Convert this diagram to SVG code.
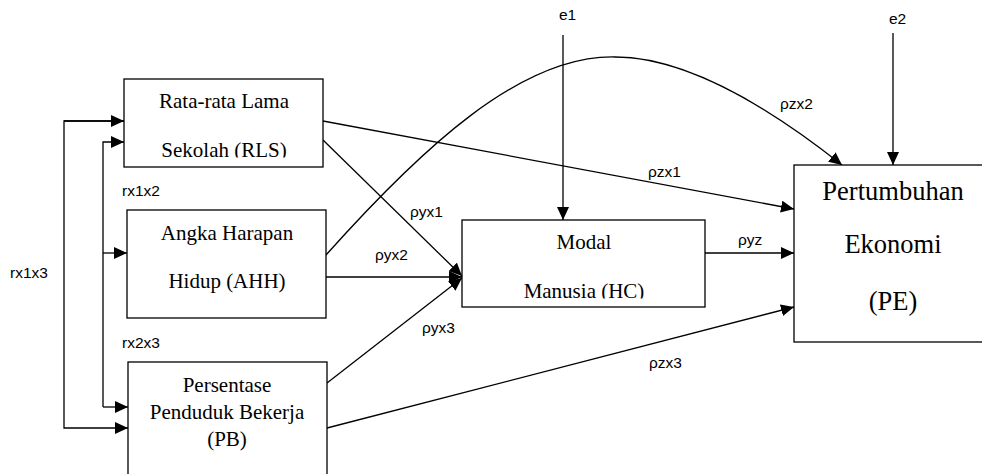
<svg xmlns="http://www.w3.org/2000/svg" width="982" height="474" viewBox="0 0 982 474">
<style>
.box{fill:#fff;stroke:#000;stroke-width:1.3}
.t{font-family:"Liberation Serif",serif;font-size:21px;fill:#000;text-anchor:middle}
.tb{font-family:"Liberation Serif",serif;font-size:26.5px;fill:#000;text-anchor:middle}
.l{font-family:"Liberation Sans",Arial,sans-serif;font-size:15.5px;fill:#000}
.c{fill:none;stroke:#000;stroke-width:1.3}
</style>
<defs>
<marker id="ah" markerUnits="userSpaceOnUse" markerWidth="14" markerHeight="12" refX="13" refY="6" orient="auto">
<path d="M0,0 L13,6 L0,12 Z" fill="#000"/>
</marker>
<clipPath id="cRLS"><rect x="124" y="79" width="200" height="78.5"/></clipPath>
<clipPath id="cHC"><rect x="462" y="220" width="244" height="78.5"/></clipPath>
</defs>
<g id="connectors">
<polyline class="c" points="124,121 64,121 64,428 128,428" marker-end="url(#ah)"/>
<line class="c" x1="64" y1="121" x2="124" y2="121" marker-end="url(#ah)"/>
<polyline class="c" points="103,407 103,142 124,142" marker-end="url(#ah)"/>
<line class="c" x1="103" y1="253" x2="127" y2="253" marker-end="url(#ah)"/>
<line class="c" x1="103" y1="407" x2="128" y2="407" marker-end="url(#ah)"/>
<line class="c" x1="323" y1="140" x2="462" y2="276" marker-end="url(#ah)"/>
<line class="c" x1="326" y1="277" x2="462" y2="277" marker-end="url(#ah)"/>
<line class="c" x1="327" y1="383" x2="462" y2="278" marker-end="url(#ah)"/>
<line class="c" x1="323" y1="121" x2="794" y2="209" marker-end="url(#ah)"/>
<line class="c" x1="705" y1="253" x2="794" y2="253" marker-end="url(#ah)"/>
<line class="c" x1="327" y1="428" x2="794" y2="307" marker-end="url(#ah)"/>
<path class="c" d="M326,255 C420,150 520,55 615,57 C680,57 760,100 842,165" marker-end="url(#ah)"/>
<line class="c" x1="563" y1="35" x2="563" y2="220" marker-end="url(#ah)"/>
<line class="c" x1="893" y1="33" x2="893" y2="165" marker-end="url(#ah)"/>
<text class="l" x="122" y="196">rx1x2</text>
<text class="l" x="122" y="348">rx2x3</text>
<text class="l" x="10" y="278">rx1x3</text>
<text class="l" x="410" y="217">ρyx1</text>
<text class="l" x="375" y="260">ρyx2</text>
<text class="l" x="422" y="333">ρyx3</text>
<text class="l" x="648" y="177">ρzx1</text>
<text class="l" x="780" y="109">ρzx2</text>
<text class="l" x="649" y="368">ρzx3</text>
<text class="l" x="738" y="245">ρyz</text>
<text class="l" x="559" y="20">e1</text>
<text class="l" x="889" y="24">e2</text>
</g>
<g id="RLS">
<rect class="box" x="124" y="79" width="199" height="88"/>
<text class="t" x="224" y="108">Rata-rata Lama</text>
<text class="t" x="224" y="157" clip-path="url(#cRLS)">Sekolah (RLS)</text>
</g>
<g id="AHH">
<rect class="box" x="127" y="210" width="199" height="108"/>
<text class="t" x="227" y="240">Angka Harapan</text>
<text class="t" x="227" y="288">Hidup (AHH)</text>
</g>
<g id="PB">
<rect class="box" x="128" y="362" width="199" height="120"/>
<text class="t" x="227" y="392">Persentase</text>
<text class="t" x="227" y="419">Penduduk Bekerja</text>
<text class="t" x="227" y="446">(PB)</text>
</g>
<g id="HC">
<rect class="box" x="462" y="220" width="243" height="87"/>
<text class="t" x="584" y="249">Modal</text>
<text class="t" x="584" y="298" clip-path="url(#cHC)">Manusia (HC)</text>
</g>
<g id="PE">
<rect class="box" x="794" y="165" width="200" height="177"/>
<text class="tb" x="893" y="200">Pertumbuhan</text>
<text class="tb" x="893" y="253">Ekonomi</text>
<text class="tb" x="893" y="310">(PE)</text>
</g>
</svg>
